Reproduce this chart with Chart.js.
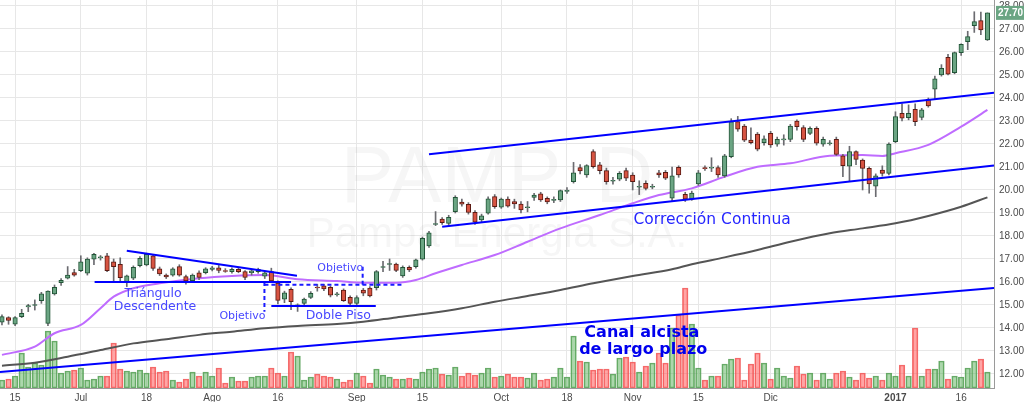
<!DOCTYPE html>
<html><head><meta charset="utf-8">
<script src="https://cdn.jsdelivr.net/npm/chart.js@4.4.1/dist/chart.umd.min.js"></script>
<style>html,body{margin:0;padding:0;background:#fff;overflow:hidden}canvas{display:block}</style>
</head><body>
<canvas id="c" width="1024" height="402"></canvas>
<script>
// ---- categories (trading days) ----
const dates = [
'2016-06-13','2016-06-14','2016-06-15','2016-06-16','2016-06-21','2016-06-22','2016-06-23','2016-06-24','2016-06-27','2016-06-28','2016-06-29','2016-06-30',
'2016-07-01','2016-07-04','2016-07-05','2016-07-06','2016-07-07','2016-07-11','2016-07-12','2016-07-13','2016-07-14','2016-07-15','2016-07-18','2016-07-19','2016-07-20','2016-07-21','2016-07-22','2016-07-25','2016-07-26','2016-07-27','2016-07-28','2016-07-29',
'2016-08-01','2016-08-02','2016-08-03','2016-08-04','2016-08-05','2016-08-08','2016-08-09','2016-08-10','2016-08-11','2016-08-12','2016-08-16','2016-08-17','2016-08-18','2016-08-19','2016-08-22','2016-08-23','2016-08-24','2016-08-25','2016-08-26','2016-08-29','2016-08-30','2016-08-31',
'2016-09-01','2016-09-02','2016-09-05','2016-09-06','2016-09-07','2016-09-08','2016-09-09','2016-09-12','2016-09-13','2016-09-14','2016-09-15','2016-09-16','2016-09-19','2016-09-20','2016-09-21','2016-09-22','2016-09-23','2016-09-26','2016-09-27','2016-09-28','2016-09-29','2016-09-30',
'2016-10-03','2016-10-04','2016-10-05','2016-10-06','2016-10-07','2016-10-11','2016-10-12','2016-10-13','2016-10-14','2016-10-17','2016-10-18','2016-10-19','2016-10-20','2016-10-21','2016-10-24','2016-10-25','2016-10-26','2016-10-27','2016-10-28','2016-10-31',
'2016-11-01','2016-11-02','2016-11-03','2016-11-04','2016-11-07','2016-11-08','2016-11-09','2016-11-10','2016-11-11','2016-11-14','2016-11-15','2016-11-16','2016-11-17','2016-11-18','2016-11-21','2016-11-22','2016-11-23','2016-11-24','2016-11-25','2016-11-29','2016-11-30',
'2016-12-01','2016-12-02','2016-12-05','2016-12-06','2016-12-07','2016-12-12','2016-12-13','2016-12-14','2016-12-15','2016-12-16','2016-12-19','2016-12-20','2016-12-21','2016-12-22','2016-12-23','2016-12-27','2016-12-28','2016-12-29','2016-12-30',
'2017-01-02','2017-01-03','2017-01-04','2017-01-05','2017-01-06','2017-01-09','2017-01-10','2017-01-11','2017-01-12','2017-01-13','2017-01-16','2017-01-17','2017-01-18','2017-01-19','2017-01-20'];

// ---- OHLC series ----
const open = [
14.25,14.45,14.16,14.49,14.91,14.98,15.19,14.20,15.48,15.97,
16.16,16.41,16.49,16.38,16.99,17.05,17.14,16.88,16.77,16.01,
16.16,16.71,16.74,17.14,16.57,16.30,16.30,16.67,16.23,16.06,
16.40,16.40,16.55,16.62,16.50,16.45,16.55,16.45,16.40,16.45,
16.25,16.45,15.95,15.25,15.68,14.97,15.07,15.33,15.78,15.83,
15.77,15.45,15.65,15.33,15.07,15.65,15.73,15.75,16.63,16.76,
16.78,16.26,16.64,16.67,16.99,17.57,18.50,18.73,18.55,19.06,
19.47,19.38,19.03,18.70,18.99,19.71,19.25,19.60,19.49,19.39,
19.23,19.68,19.83,19.64,19.55,19.57,19.94,20.36,20.97,20.65,
21.67,21.09,20.84,20.38,20.47,20.84,20.65,20.12,20.29,20.12,
20.75,20.77,19.64,20.99,19.81,19.60,20.26,20.97,20.95,20.97,
20.61,21.45,22.97,22.78,22.17,22.43,22.06,22.46,21.99,22.18,
22.20,23.00,22.71,22.46,22.68,21.99,22.01,22.20,21.48,21.04,
21.67,21.30,20.94,20.17,20.87,20.72,22.10,23.33,23.14,23.51,
23.16,23.94,24.38,25.00,25.77,25.10,25.97,26.45,27.14,27.36,
26.52];
const high = [
14.57,14.49,14.50,14.81,15.03,15.22,15.55,15.62,15.87,16.15,
16.67,16.55,17.14,17.05,17.25,17.15,17.25,17.00,17.05,16.30,
16.70,17.10,17.25,17.20,16.65,16.35,16.62,16.75,16.30,16.35,
16.48,16.62,16.68,16.72,16.58,16.62,16.62,16.50,16.55,16.60,
16.45,16.60,16.05,15.60,15.75,15.05,15.30,15.58,15.90,15.90,
15.82,15.55,15.70,15.40,15.40,15.72,15.80,16.50,16.90,17.00,
16.82,16.70,16.70,17.00,17.95,18.20,19.06,18.80,18.90,19.75,
19.60,19.45,19.10,18.95,19.70,19.80,19.65,19.70,19.60,19.50,
19.50,19.85,19.90,19.70,19.70,20.00,20.10,21.20,21.10,21.10,
21.75,21.20,20.95,20.55,20.80,20.95,20.75,20.40,20.40,20.25,
20.85,20.85,21.00,21.05,19.90,19.95,20.85,21.05,21.40,21.05,
21.55,23.10,23.20,22.85,22.70,22.50,22.35,22.55,22.30,22.40,
22.85,23.05,22.80,22.75,22.75,22.30,22.15,22.30,21.55,21.90,
21.70,21.35,21.00,20.70,21.05,22.05,23.40,23.75,23.70,23.75,
23.55,24.00,24.95,25.45,25.90,26.00,26.35,26.90,27.75,27.73,
27.70];
const low = [
14.13,14.16,14.10,14.45,14.71,14.78,15.07,14.10,15.43,15.85,
16.13,16.25,16.45,16.30,16.75,16.95,16.45,16.00,16.00,15.80,
16.10,16.65,16.70,16.50,16.28,16.15,16.25,16.25,15.90,15.98,
16.10,16.35,16.48,16.40,16.42,16.38,16.40,16.10,16.30,16.38,
16.15,16.00,15.05,15.10,14.80,14.72,15.00,15.28,15.60,15.62,
15.35,15.38,15.15,14.95,14.95,15.40,15.35,15.65,16.45,16.50,
16.45,16.20,16.45,16.60,16.95,17.50,18.45,18.50,18.45,19.00,
19.30,18.95,18.50,18.60,18.95,19.20,19.20,19.25,19.20,19.00,
19.05,19.55,19.50,19.40,19.45,19.50,19.85,20.30,20.70,20.55,
20.95,20.70,20.25,20.25,20.40,20.40,20.00,19.80,20.00,20.05,
20.55,20.45,19.50,20.55,19.50,19.55,20.20,20.85,20.80,20.55,
20.55,21.40,22.55,22.10,22.00,21.70,21.95,21.85,21.90,21.95,
22.10,22.60,22.10,22.40,21.95,21.90,21.95,21.50,20.58,20.36,
21.10,20.00,19.86,19.71,20.60,20.65,22.05,23.00,23.05,22.80,
23.05,23.60,23.95,24.95,25.00,25.05,25.85,26.10,26.85,26.75,
26.50];
const close = [
14.49,14.33,14.45,14.64,14.97,15.02,15.48,15.60,15.77,16.07,
16.30,16.30,16.88,16.99,17.20,17.09,16.49,16.67,16.19,16.27,
16.64,17.03,17.20,16.59,16.35,16.22,16.57,16.30,16.05,16.30,
16.20,16.57,16.62,16.50,16.46,16.55,16.45,16.20,16.48,16.55,
16.40,16.05,15.20,15.53,15.14,15.01,15.26,15.51,15.74,15.70,
15.43,15.48,15.19,15.07,15.32,15.51,15.39,16.45,16.67,16.80,
16.50,16.64,16.52,16.96,17.90,18.14,18.54,18.58,18.81,19.68,
19.38,19.02,18.60,18.88,19.61,19.27,19.60,19.30,19.39,19.13,
19.27,19.78,19.57,19.48,19.59,19.97,19.98,20.75,20.83,21.06,
21.01,20.84,20.36,20.42,20.72,20.51,20.36,20.16,20.07,20.16,
20.65,20.51,20.62,20.65,19.60,19.86,20.75,20.93,20.99,20.65,
21.48,22.97,22.64,22.17,22.06,21.77,22.22,21.96,22.20,22.22,
22.78,22.75,22.20,22.68,22.03,22.20,22.05,21.55,21.06,21.67,
21.33,20.94,20.26,20.61,20.72,22.00,23.19,23.12,23.33,22.97,
23.48,23.65,24.83,25.29,25.04,25.97,26.33,26.67,27.32,26.96,
27.70];
// relative volume (arbitrary units)
const volume = [
8,9,12,35,21,25,23,57,47,15,
17,18,20,8,9,12,12,45,19,17,
16,18,15,21,16,17,8,6,9,16,
12,16,12,20,5,11,7,7,11,12,
12,20,15,12,36,32,8,11,14,12,
11,9,6,8,15,12,5,19,13,11,
9,9,10,9,16,19,20,14,13,21,
12,15,13,15,20,11,12,14,11,11,
10,15,8,9,11,20,11,52,27,26,
18,19,19,14,30,31,26,16,22,25,
35,25,60,73,100,64,20,8,12,12,
24,29,30,8,24,35,25,9,20,12,
10,22,14,15,8,15,9,15,17,11,
8,15,10,12,8,15,12,23,12,60,
12,19,19,27,9,12,11,20,27,29,
16];

// ---- moving averages, read at sample bars ----
const maFastIdx = [0,5,8,12,15,17,20,24,30,35,40,45,51,55,60,63,66,70,75,80,85,91,96,100,105,110,115,120,126,131,134,136,141,146,150];
const maFastVal = [12.83,13.19,13.77,14.13,14.86,15.36,15.73,15.94,16.16,16.26,16.30,16.12,16.04,15.97,15.97,16.09,16.38,16.74,17.17,17.75,18.33,18.91,19.42,19.78,20.07,20.58,21.01,21.16,21.49,21.52,21.48,21.60,21.96,22.75,23.48];
const maSlowIdx = [0,5,10,15,20,25,30,35,40,45,51,55,60,65,70,75,80,85,90,96,102,105,110,115,120,126,131,136,141,146,150];
const maSlowVal = [12.36,12.49,12.75,13.04,13.33,13.51,13.70,13.84,13.99,14.09,14.17,14.27,14.46,14.64,14.86,15.14,15.39,15.65,15.94,16.26,16.55,16.77,17.07,17.39,17.75,18.12,18.33,18.55,18.87,19.27,19.68];

// ---- tick labels ----
const priceTicks = [12,13,14,15,16,17,18,19,20,21,22,23,24,25,26,27,28];
const xTickDates = ['2016-06-15','2016-07-01','2016-07-18','2016-08-01','2016-08-16','2016-09-01','2016-09-15','2016-10-03','2016-10-18','2016-11-01','2016-11-15','2016-12-01','2017-01-02','2017-01-16'];
const xTickLabels = ['15','Jul','18','Ago','16','Sep','15','Oct','18','Nov','15','Dic','2017','16'];

// ---- drawn analysis lines (bar index, price) ----
const trendSolid = [
  [-0.3,12.09,151.0,15.74],
  [19.0,17.36,44.9,16.27],
  [14.1,16.00,44.0,16.00],
  [41.0,14.96,56.9,14.96],
  [65.0,21.55,151.0,24.23],
  [67.0,18.40,151.0,21.06]
];
const trendDashed = [
  [39.95,16.00,39.95,14.71],
  [39.95,15.88,60.9,15.88],
  [54.9,15.88,54.9,16.74]
];
const notes = [
  {text:'Triángulo', x:23.0, y:15.48, size:12.5, bold:false, color:'#4848ff'},
  {text:'Descendente', x:23.3, y:14.91, size:12.5, bold:false, color:'#4848ff'},
  {text:'Objetivo', x:36.6, y:14.52, size:11, bold:false, color:'#4848ff'},
  {text:'Objetivo', x:51.5, y:16.61, size:11, bold:false, color:'#4848ff'},
  {text:'Doble Piso', x:51.2, y:14.52, size:12.5, bold:false, color:'#4848ff'},
  {text:'Corrección Continua', x:108.1, y:18.70, size:15.5, bold:false, color:'#2626ff'},
  {text:'Canal alcista', x:97.4, y:13.78, size:16, bold:true, color:'#0000ee'},
  {text:'de largo plazo', x:97.6, y:13.04, size:16, bold:true, color:'#0000ee'}
];
const watermark = ['PAMP, D', 'Pampa Energia S.A.'];

// ---- build chart ----
const N = dates.length;
const idx = dates.map((d, i) => i);
const up = idx.map(i => close[i] >= open[i]);
const xTickIdx = xTickDates.map(d => dates.indexOf(d));

Chart.defaults.font.family = '"Liberation Sans", Arial, sans-serif';

const linePts = a => [{x:a[0], y:a[1]}, {x:a[2], y:a[3]}];
const trendSets = trendSolid.map(t => ({type:'line', data: linePts(t), borderColor:'#0000ff', borderWidth:2, pointRadius:0, order:0, yAxisID:'y'}))
  .concat(trendDashed.map(t => ({type:'line', data: linePts(t), borderColor:'#1a1aff', borderWidth:2, borderDash:[4,3], pointRadius:0, order:0, yAxisID:'y'})));

const overlay = {
  id: 'overlay',
  beforeDatasetsDraw(chart) {
    const {ctx, chartArea: a} = chart;
    ctx.save();
    ctx.beginPath(); ctx.rect(a.left, a.top, a.width, a.height); ctx.clip();
    ctx.fillStyle = 'rgba(40,40,40,0.045)';
    ctx.textAlign = 'center'; ctx.textBaseline = 'alphabetic';
    const cx = (a.left + a.right) / 2;
    ctx.font = '80px "Liberation Sans", Arial, sans-serif';
    ctx.fillText(watermark[0], cx, a.top + 202);
    ctx.font = '42px "Liberation Sans", Arial, sans-serif';
    ctx.fillText(watermark[1], cx, a.top + 247);
    ctx.restore();
  },
  afterDatasetsDraw(chart) {
    const {ctx, scales: {x, y}} = chart;
    ctx.save();
    ctx.textAlign = 'center'; ctx.textBaseline = 'middle';
    notes.forEach(n => {
      ctx.font = (n.bold ? 'bold ' : '') + n.size + 'px "DejaVu Sans", Verdana, sans-serif';
      ctx.fillStyle = n.color;
      ctx.fillText(n.text, x.getPixelForValue(n.x), y.getPixelForValue(n.y));
    });
    ctx.restore();
  },
  afterDraw(chart) {
    const {ctx, chartArea: a, scales: {y}} = chart;
    const last = close[N - 1];
    const py = y.getPixelForValue(last);
    ctx.save();
    ctx.fillStyle = '#6ba583';
    ctx.fillRect(a.right + 2, py - 7, chart.width - a.right - 2, 14);
    ctx.fillStyle = '#ffffff';
    ctx.font = 'bold 10px "Liberation Sans", Arial, sans-serif';
    ctx.textAlign = 'left'; ctx.textBaseline = 'middle';
    ctx.fillText(last.toFixed(2), a.right + 4, py + 0.5);
    ctx.restore();
  }
};

new Chart(document.getElementById('c'), {
  type: 'bar',
  data: {
    datasets: trendSets.concat([
      {label:'body', data: idx.map(i => ({x:i, y:[open[i], close[i]]})),
       backgroundColor: up.map(u => u ? '#6ba583' : '#d75442'),
       borderColor: up.map(u => u ? '#225437' : '#5b1a13'),
       borderWidth: 1, borderSkipped: false, barThickness: 4.5, grouped: false, order: 1, yAxisID:'y'},
      {label:'wick', data: idx.map(i => ({x:i, y:[low[i], high[i]]})),
       backgroundColor: '#6b6b70', borderWidth: 0, barThickness: 1, grouped: false, order: 2, yAxisID:'y'},
      {type:'line', label:'MA rápida', data: maFastIdx.map((v, k) => ({x:v, y:maFastVal[k]})),
       borderColor:'#bf6cff', borderWidth:2, pointRadius:0, cubicInterpolationMode:'monotone', order:3, yAxisID:'y'},
      {type:'line', label:'MA lenta', data: maSlowIdx.map((v, k) => ({x:v, y:maSlowVal[k]})),
       borderColor:'#555555', borderWidth:2, pointRadius:0, cubicInterpolationMode:'monotone', order:3, yAxisID:'y'},
      {label:'volumen', data: idx.map(i => ({x:i, y:volume[i]})),
       backgroundColor: up.map(u => u ? 'rgba(90,175,90,0.5)' : 'rgba(255,75,75,0.5)'),
       borderColor: up.map(u => u ? 'rgba(80,155,80,0.85)' : 'rgba(240,85,85,0.85)'),
       borderWidth: 1, borderSkipped: false, barThickness: 5.6, grouped: false, order: 4, yAxisID:'yv'}
    ])
  },
  options: {
    responsive: false,
    animation: false,
    events: [],
    layout: {padding: 0},
    plugins: {legend: {display:false}, tooltip: {enabled:false}},
    scales: {
      x: {
        type: 'linear', min: -0.3, max: 151.0, offset: false,
        grid: {color:'#e7e7e7', lineWidth:1, offset:false, drawTicks:false},
        border: {display:true, color:'#9a9a9a'},
        afterBuildTicks: s => { s.ticks = xTickIdx.map(v => ({value: v})); },
        afterFit: s => { s.height = 14; s.paddingLeft = 0; s.paddingRight = 0; },
        ticks: {
          autoSkip: false, maxRotation: 0, padding: 4, color: '#4a4a4a',
          font: c => ({size: 10, weight: xTickLabels[c.index] === '2017' ? 'bold' : 'normal'}),
          callback: (v, i) => xTickLabels[i]
        }
      },
      y: {
        type: 'linear', position: 'right', min: 11.39, max: 28.26,
        grid: {color:'#e7e7e7', lineWidth:1, drawTicks:false},
        border: {display:true, color:'#9a9a9a'},
        afterBuildTicks: s => { s.ticks = priceTicks.map(v => ({value: v})); },
        afterFit: s => { s.width = 30; s.paddingTop = 0; s.paddingBottom = 0; },
        ticks: {autoSkip:false, padding: 5, color:'#4a4a4a', font:{size:10}, callback: v => Number(v).toFixed(2)}
      },
      yv: {type:'linear', display:false, min:0, max:388}
    }
  },
  plugins: [overlay]
});
</script>
</body></html>
